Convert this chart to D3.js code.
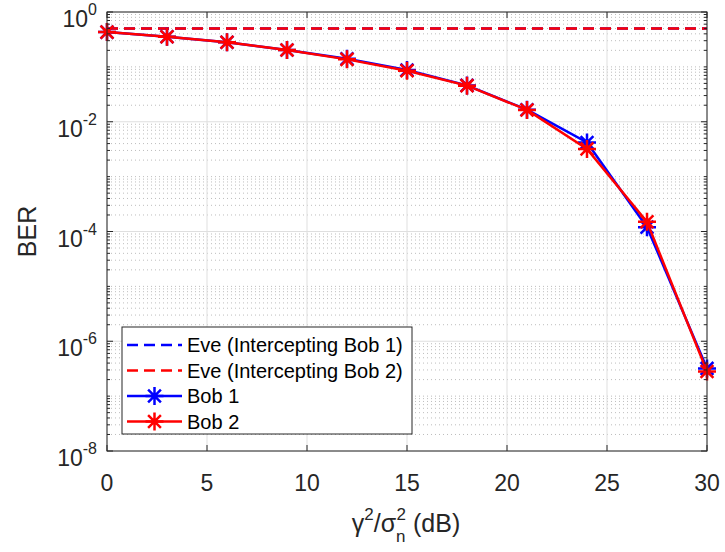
<!DOCTYPE html>
<html>
<head>
<meta charset="utf-8">
<script src="https://cdn.jsdelivr.net/npm/d3@7"></script>
<style>
  html, body { margin: 0; padding: 0; background: #fff; }
  svg { display: block; font-family: "Liberation Sans", Arial, Helvetica, sans-serif; }
</style>
</head>
<body>
<svg id="chart" width="725" height="552"></svg>
<script>
// SNR points (dB)
const snrDb = [0, 3, 6, 9, 12, 15, 18, 21, 24, 27, 30];
// Legitimate receivers
const berBob1 = [0.43, 0.355, 0.28, 0.203, 0.14, 0.088, 0.046, 0.0166, 0.0042, 1.2e-4, 3.2e-7];
const berBob2 = [0.43, 0.355, 0.28, 0.203, 0.137, 0.085, 0.0455, 0.0164, 0.0032, 1.5e-4, 2.8e-7];
// Eavesdropper stays at coin-flip error rate
const berEve1 = [0.5, 0.5, 0.5, 0.5, 0.5, 0.5, 0.5, 0.5, 0.5, 0.5, 0.5];
const berEve2 = [0.5, 0.5, 0.5, 0.5, 0.5, 0.5, 0.5, 0.5, 0.5, 0.5, 0.5];
// Axis ticks
const xTicks = [0, 5, 10, 15, 20, 25, 30];
const yTickExps = [0, -2, -4, -6, -8];
const legendLabels = ["Eve (Intercepting Bob 1)", "Eve (Intercepting Bob 2)", "Bob 1", "Bob 2"];

const svg = d3.select("#chart");
const L = 107, R = 707, T = 12, B = 451;
const axisColor = "#262626";

const x = d3.scaleLinear().domain([0, 30]).range([L, R]);
const y = d3.scaleLog().domain([1e-8, 1]).range([B, T]);

// minor values: 2..9 x 10^k, plus odd decades
const minorVals = [];
for (let k = -8; k < 0; k++) {
  for (let m = 1; m <= 9; m++) {
    const v = m * Math.pow(10, k);
    if (m === 1 && yTickExps.includes(k)) continue;
    minorVals.push(v);
  }
}
const majorVals = yTickExps.map(e => Math.pow(10, e));

const grid = svg.append("g");
// minor horizontal grid (dotted)
grid.selectAll("line.minor").data(minorVals).join("line")
  .attr("x1", L).attr("x2", R)
  .attr("y1", d => y(d)).attr("y2", d => y(d))
  .attr("stroke", "#bdbdbd").attr("stroke-width", 1)
  .attr("stroke-dasharray", "1,3");
// major grid
grid.selectAll("line.hmaj").data(majorVals).join("line")
  .attr("x1", L).attr("x2", R)
  .attr("y1", d => y(d)).attr("y2", d => y(d))
  .attr("stroke", "#dfdfdf").attr("stroke-width", 1);
grid.selectAll("line.vmaj").data(xTicks).join("line")
  .attr("x1", d => x(d)).attr("x2", d => x(d))
  .attr("y1", T).attr("y2", B)
  .attr("stroke", "#dfdfdf").attr("stroke-width", 1);

// series
const line = d3.line().x((d, i) => x(snrDb[i])).y(d => y(d));
function asterisk(g, cx, cy, color) {
  const a = 9, d = 6.4;
  const p = `M${cx - a},${cy}L${cx + a},${cy}M${cx},${cy - a}L${cx},${cy + a}` +
            `M${cx - d},${cy - d}L${cx + d},${cy + d}M${cx - d},${cy + d}L${cx + d},${cy - d}`;
  g.append("path").attr("d", p).attr("stroke", color).attr("stroke-width", 2.5).attr("fill", "none");
}

const plot = svg.append("g");
const series = [
  { data: berEve1, color: "#0000ff", dash: "11,6", marker: false },
  { data: berEve2, color: "#ff0000", dash: "11,6", marker: false },
  { data: berBob1, color: "#0000ff", dash: null, marker: true },
  { data: berBob2, color: "#ff0000", dash: null, marker: true }
];
series.forEach(s => {
  plot.append("path").datum(s.data)
    .attr("d", line)
    .attr("fill", "none")
    .attr("stroke", s.color)
    .attr("stroke-width", 2.5)
    .attr("stroke-dasharray", s.dash);
  if (s.marker) {
    s.data.forEach((v, i) => asterisk(plot, x(snrDb[i]), y(v), s.color));
  }
});

// axes box and ticks
const ax = svg.append("g").attr("stroke", axisColor).attr("stroke-width", 1);
ax.append("rect").attr("x", L).attr("y", T).attr("width", R - L).attr("height", B - T)
  .attr("fill", "none");
xTicks.forEach(t => {
  ax.append("line").attr("x1", x(t)).attr("x2", x(t)).attr("y1", B).attr("y2", B - 6);
  ax.append("line").attr("x1", x(t)).attr("x2", x(t)).attr("y1", T).attr("y2", T + 6);
});
majorVals.forEach(v => {
  ax.append("line").attr("x1", L).attr("x2", L + 6).attr("y1", y(v)).attr("y2", y(v));
  ax.append("line").attr("x1", R).attr("x2", R - 6).attr("y1", y(v)).attr("y2", y(v));
});
minorVals.forEach(v => {
  ax.append("line").attr("x1", L).attr("x2", L + 3).attr("y1", y(v)).attr("y2", y(v));
  ax.append("line").attr("x1", R).attr("x2", R - 3).attr("y1", y(v)).attr("y2", y(v));
});

// tick labels
const lab = svg.append("g").attr("fill", axisColor);
xTicks.forEach(t => {
  lab.append("text").attr("x", x(t)).attr("y", B + 40)
    .attr("text-anchor", "middle").attr("font-size", 23).text(t);
});
yTickExps.forEach(e => {
  const t = lab.append("text").attr("x", 97).attr("y", y(Math.pow(10, e)) + 15)
    .attr("text-anchor", "end").attr("font-size", 23);
  t.append("tspan").text("10");
  t.append("tspan").attr("font-size", 16).attr("dy", -12).text(e === 0 ? "0" : "-" + (-e));
});

// axis labels
lab.append("text")
  .attr("transform", `translate(36,${(T + B) / 2}) rotate(-90)`)
  .attr("text-anchor", "middle").attr("font-size", 25).text("BER");
const xl = lab.append("text").attr("x", 406).attr("y", 532)
  .attr("text-anchor", "middle").attr("font-size", 25);
xl.append("tspan").text("γ");
xl.append("tspan").attr("font-size", 17).attr("dy", -12).text("2");
xl.append("tspan").attr("dy", 12).text("/σ");
xl.append("tspan").attr("font-size", 17).attr("dy", 10).text("n");
xl.append("tspan").attr("font-size", 17).attr("dx", -9).attr("dy", -22).text("2");
xl.append("tspan").attr("dy", 12).text(" (dB)");

// legend
const lg = svg.append("g");
lg.append("rect").attr("x", 122).attr("y", 327).attr("width", 290).attr("height", 107)
  .attr("fill", "#fff").attr("stroke", axisColor).attr("stroke-width", 1);
legendLabels.forEach((name, i) => {
  const s = series[i];
  const cy = 345 + i * 25.5;
  lg.append("line").attr("x1", 127).attr("x2", 182).attr("y1", cy).attr("y2", cy)
    .attr("stroke", s.color).attr("stroke-width", 2.5).attr("stroke-dasharray", s.dash);
  if (s.marker) asterisk(lg, 154.5, cy, s.color);
  lg.append("text").attr("x", 187).attr("y", cy + 7).attr("font-size", 20)
    .attr("fill", "#000").text(name);
});
</script>
</body>
</html>
